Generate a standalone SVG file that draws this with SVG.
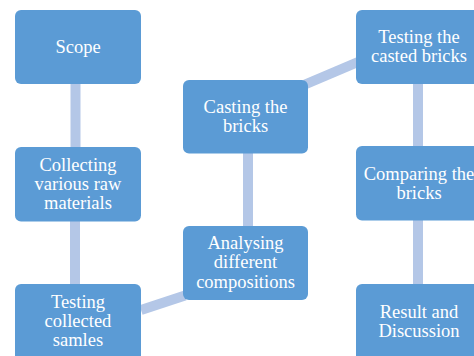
<svg xmlns="http://www.w3.org/2000/svg" width="474" height="356" viewBox="0 0 474 356">
<style>
.box{fill:#5B9BD5;}
.t{font-family:'Liberation Serif','Times New Roman',Tinos,'DejaVu Serif',serif;font-size:18.5px;fill:#FFFFFF;text-anchor:middle;}
.c{stroke:#B4C7E7;stroke-width:10;fill:none;}
</style>
<rect width="474" height="356" fill="#FFFFFF"/>
<g id="connectors">
<line class="c" x1="75.5" y1="84" x2="75.5" y2="147"/>
<line class="c" x1="75" y1="221" x2="75" y2="284"/>
<line class="c" x1="141" y1="310" x2="185" y2="295.5"/>
<line class="c" x1="248" y1="153" x2="248" y2="226"/>
<line class="c" x1="305" y1="84.5" x2="358" y2="62"/>
<line class="c" x1="418" y1="84" x2="418" y2="146"/>
<line class="c" x1="418" y1="220" x2="418" y2="284"/>
</g>
<g id="scope"><rect class="box" x="15" y="10" width="126" height="74" rx="6"/><text class="t" font-family="Liberation Serif" x="78" y="52.7">Scope</text></g>
<g id="collecting"><rect class="box" x="15" y="147" width="126" height="74.5" rx="6"/><text class="t" x="78" y="170.5">Collecting</text><text class="t" x="78" y="189.5">various raw</text><text class="t" x="78" y="209">materials</text></g>
<g id="testing-collected"><rect class="box" x="15" y="284" width="126" height="80" rx="6"/><text class="t" x="78" y="307.7">Testing</text><text class="t" x="78" y="326.7">collected</text><text class="t" x="78" y="346">samles</text></g>
<g id="casting"><rect class="box" x="183" y="80" width="125" height="73.5" rx="6"/><text class="t" x="245.5" y="113.3">Casting the</text><text class="t" x="245.5" y="132">bricks</text></g>
<g id="analysing"><rect class="box" x="183" y="226" width="125" height="74" rx="6"/><text class="t" x="245.5" y="248.7">Analysing</text><text class="t" x="245.5" y="267.7">different</text><text class="t" x="245.5" y="287.5">compositions</text></g>
<g id="testing-casted"><rect class="box" x="356" y="10" width="126" height="74" rx="6"/><text class="t" x="419" y="42.7">Testing the</text><text class="t" x="419" y="61.7">casted bricks</text></g>
<g id="comparing"><rect class="box" x="356" y="146" width="126" height="74.5" rx="6"/><text class="t" x="419" y="180">Comparing the</text><text class="t" x="419" y="198.5">bricks</text></g>
<g id="result"><rect class="box" x="356" y="284" width="126" height="80" rx="6"/><text class="t" x="419" y="317.7">Result and</text><text class="t" x="419" y="336.7">Discussion</text></g>
</svg>
